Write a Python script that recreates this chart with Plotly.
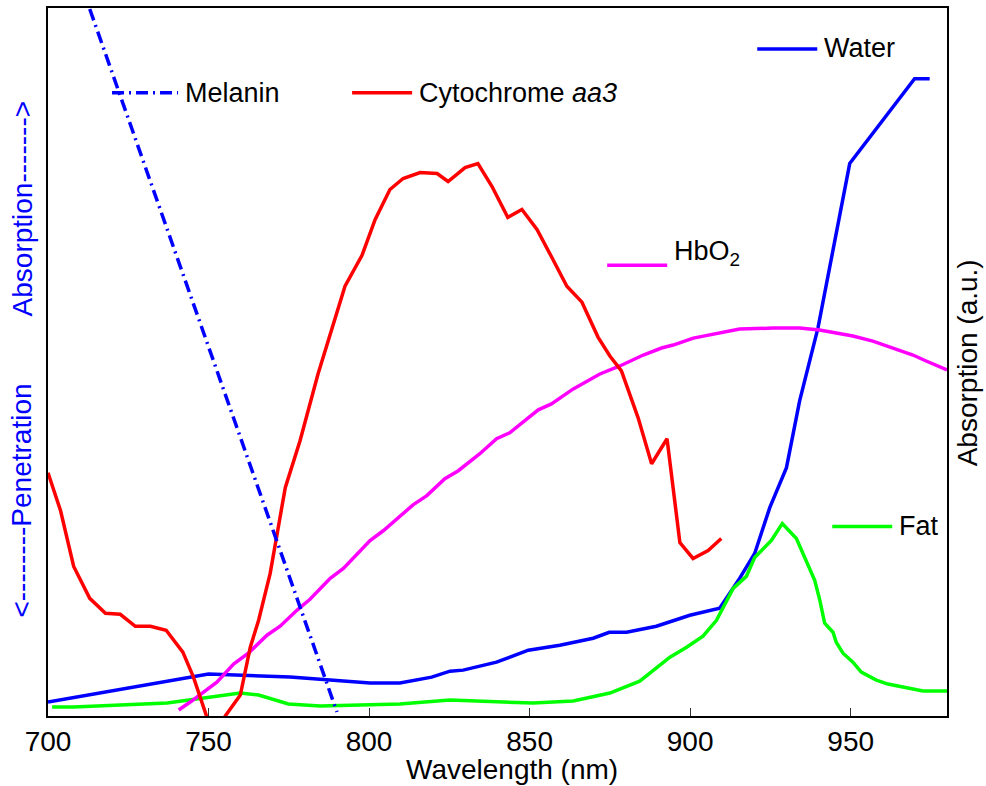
import plotly.graph_objects as go

# ---------------- data (wavelength nm, absorption a.u.) ----------------
cyt_x = [700, 703.9, 708.0, 713.0, 717.9, 722.5, 727.2, 731.9, 736.8, 742.0, 745.3, 749.5, 752.4,
         755.2, 759.9, 763.0, 765.6, 769.2, 773.9, 778.5, 784.1, 792.5, 797.8, 801.9, 806.5, 810.6,
         815.9, 821.2, 824.6, 829.9, 833.9, 838.3, 843.2, 847.6, 852.3, 856.9, 861.6, 866.3, 871.3,
         875.0, 878.6, 883.8, 888.0, 892.8, 896.8, 900.9, 905.6, 909.7]
cyt_y = [244, 206, 150, 118, 103, 102, 90, 90, 86, 64, 39, 0, -29,
         0, 21, 69, 96, 143, 229, 276, 343, 431, 462, 498, 528, 539,
         545, 544, 536, 550, 554, 531, 500, 508, 488, 460, 431, 415, 380,
         361, 346, 299, 253, 278, 174, 158, 166, 178]

hbo2_x = [740.7, 744.3, 752.6, 757.8, 762.4, 768.2, 772.3, 777.5, 781.6, 787.9, 792.0, 800.3, 804.5,
          813.8, 818.0, 823.6, 827.8, 834.5, 839.7, 843.8, 852.7, 856.8, 863.6, 871.9, 878.1, 885.4,
          891.1, 894.7, 901.0, 907.1, 915.4, 925.8, 934.1, 940.3, 950.7, 956.9, 963.2, 969.4, 973.5, 980]
hbo2_y = [6, 14, 34, 52, 63, 81, 90, 106, 117, 138, 148, 176, 186,
          212, 221, 238, 246, 263, 278, 284, 307, 313, 328, 343, 351, 362,
          369, 372, 379, 383, 388, 389, 389, 387, 381, 376, 369, 362, 356, 347]

water_x = [700, 750.0, 775.4, 800.3, 809.6, 819.5, 825.2, 829.3, 839.7, 849.6, 859.4, 869.8, 874.8,
           880.2, 889.5, 899.9, 909.2, 915.4, 920.1, 924.8, 930.0, 934.1, 939.8, 949.7, 969.9, 974.6]
water_y = [14, 42, 39, 33, 33, 39, 45, 46, 54, 66, 71, 78, 84,
           84, 90, 101, 108, 138, 163, 209, 249, 316, 389, 554, 639, 639]

fat_x = [701.3, 708.0, 737.1, 753.6, 759.9, 765.6, 774.9, 784.8, 800.3, 809.6, 825.2, 836.6, 851.1,
         863.6, 875.0, 884.3, 893.7, 898.9, 904.0, 908.2, 913.4, 917.5, 920.1, 925.3, 928.7, 933.1,
         935.7, 938.8, 940.4, 941.9, 944.5, 945.5, 947.6, 950.7, 953.3, 956.5, 958.0, 961.6, 967.4,
         972.5, 980]
fat_y = [9, 9, 13, 20, 23, 21, 12, 10, 11, 12, 16, 15, 13,
         15, 23, 35, 59, 69, 80, 96, 128, 140, 159, 176, 193, 178,
         159, 136, 116, 93, 84, 74, 63, 54, 44, 39, 36, 32, 28,
         25, 25]

melanin_x = [713.0, 790.0]
melanin_y = [709, 4]

x_ticks = [700, 750, 800, 850, 900, 950]

# ---------------- layout helpers (pixel -> paper) ----------------
W, H = 986, 786
PL, PR, PT, PB = 48, 946.7, 6, 716


def fx(px):
    return (px - PL) / (PR - PL)


def fy(py):
    return (PB - py) / (PB - PT)


FONT = "Liberation Sans, Arial, Helvetica, sans-serif"
FS = 27
LW = 3.5

fig = go.Figure()
fig.add_trace(go.Scatter(x=water_x, y=water_y, mode="lines", name="Water",
                         line=dict(color="#0000FF", width=LW)))
fig.add_trace(go.Scatter(x=fat_x, y=fat_y, mode="lines", name="Fat",
                         line=dict(color="#00FF00", width=LW)))
fig.add_trace(go.Scatter(x=hbo2_x, y=hbo2_y, mode="lines", name="HbO2",
                         line=dict(color="#FF00FF", width=LW)))
fig.add_trace(go.Scatter(x=cyt_x, y=cyt_y, mode="lines", name="Cytochrome aa3",
                         line=dict(color="#FF0000", width=LW)))
fig.add_trace(go.Scatter(x=melanin_x, y=melanin_y, mode="lines", name="Melanin",
                         line=dict(color="#0000FF", width=LW, dash="12px,5px,2px,5px")))

# inline legend entries: (line x0, x1, line y, text y, colour, dash, text)
legend_items = [
    (112, 178, 91, 91, "#0000FF", "12px,5px,2px,5px", "Melanin"),
    (352, 412, 91, 91, "#FF0000", "solid", "Cytochrome <i>aa3</i>"),
    (757, 817, 47, 46, "#0000FF", "solid", "Water"),
    (607, 667, 264, 252, "#FF00FF", "solid", "HbO<sub>2</sub>"),
    (832, 892, 526, 525, "#00FF00", "solid", "Fat"),
]
shapes = []
annotations = []
for x0, x1, yy, ty, col, dash, txt in legend_items:
    shapes.append(dict(type="line", xref="paper", yref="paper",
                       x0=fx(x0), x1=fx(x1), y0=fy(yy), y1=fy(yy),
                       line=dict(color=col, width=LW, dash=dash)))
    annotations.append(dict(text=txt, xref="paper", yref="paper", x=fx(x1 + 5), y=fy(ty),
                            xanchor="left", yanchor="middle", showarrow=False,
                            font=dict(family=FONT, size=FS, color="black")))

# left direction labels
annotations.append(dict(text="Absorption------->", xref="paper", yref="paper",
                        x=fx(22), y=fy(207), textangle=-90, showarrow=False,
                        xanchor="center", yanchor="middle",
                        font=dict(family=FONT, size=28, color="#0000FF")))
annotations.append(dict(text="<--------Penetration", xref="paper", yref="paper",
                        x=fx(22), y=fy(500), textangle=-90, showarrow=False,
                        xanchor="center", yanchor="middle",
                        font=dict(family=FONT, size=28, color="#0000FF")))
# right axis title
annotations.append(dict(text="Absorption (a.u.)", xref="paper", yref="paper",
                        x=fx(968), y=fy(362), textangle=-90, showarrow=False,
                        xanchor="center", yanchor="middle",
                        font=dict(family=FONT, size=28, color="black")))
# x title
annotations.append(dict(text="Wavelength (nm)", xref="paper", yref="paper",
                        x=fx(512), y=fy(770), showarrow=False,
                        xanchor="center", yanchor="middle",
                        font=dict(family=FONT, size=28, color="black")))

fig.update_layout(
    width=W, height=H,
    margin=dict(l=PL, r=W - PR, t=PT, b=H - PB, pad=0),
    paper_bgcolor="white", plot_bgcolor="white",
    showlegend=False,
    shapes=shapes, annotations=annotations,
    font=dict(family=FONT, size=FS, color="black"),
)
fig.update_xaxes(range=[700, 980], tickvals=x_ticks, ticks="inside", ticklen=8,
                 tickcolor="#333", tickwidth=1, showgrid=False, zeroline=False,
                 showline=True, linecolor="black", linewidth=1.5, mirror=True,
                 tickfont=dict(family=FONT, size=28, color="black"), ticklabelstandoff=0)
fig.update_yaxes(range=[0, 710], showticklabels=False, ticks="", showgrid=False,
                 zeroline=False, showline=True, linecolor="black", linewidth=1.5, mirror=True)

fig.write_html("out.html", config={"displayModeBar": False},
               post_script="document.body.style.margin='0px';")
